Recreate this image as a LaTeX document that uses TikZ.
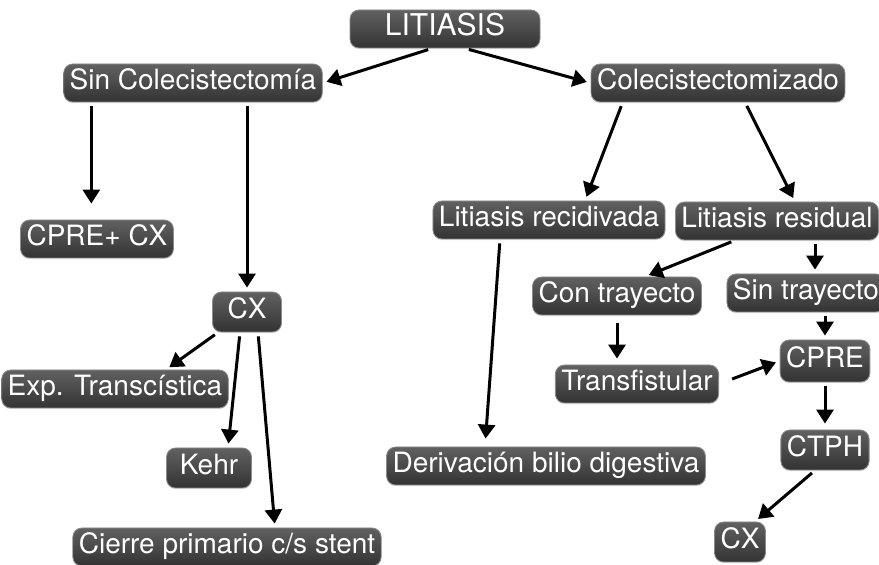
\documentclass[tikz,border=0pt]{standalone}
\usepackage{fontspec}
\setmainfont{TeX Gyre Heros}
\usetikzlibrary{arrows.meta,shadows}

\begin{document}
\begin{tikzpicture}[x=0.5pt,y=-0.5pt,
		caja/.style={rounded corners=4.5pt, top color=black!62, bottom color=black!80,
			draw=black!45, line width=0.4pt, text=white, font=\fontsize{14}{16}\selectfont\strut,
			inner xsep=3pt, inner ysep=1pt, minimum height=19pt,
			drop shadow={opacity=0.25, shadow xshift=0pt, shadow yshift=-0.6pt}},
		flecha/.style={-{Triangle[width=8.5pt,length=7pt]}, line width=1.5pt,
			shorten <=2pt, shorten >=2pt}]
		\useasboundingbox (0,0) rectangle (879,565);
		\node[caja, minimum height=15pt, minimum width=95pt, font=\fontsize{15}{17}\selectfont\strut] (lit) at (445,29) {LITIASIS};
		\node[caja] (sincol) at (193,83) {Sin Colecistectomía};
		\node[caja] (colec) at (718,83) {Colecistectomizado};
		\node[caja] (cprecx) at (97,239) {CPRE+ CX};
		\node[caja, minimum width=34.5pt, minimum height=20pt] (cxl) at (247,312) {CX};
		\node[caja] (recid) at (549,220) {Litiasis recidivada};
		\node[caja] (resid) at (777,221) {Litiasis residual};
		\node[caja] (con) at (617,296) {Con trayecto};
		\node[caja] (sint) at (806,293) {Sin trayecto};
		\node[caja, minimum width=42.5pt, minimum height=21pt] (cprer) at (825,361) {CPRE};
		\node[caja] (transf) at (637,384) {Transfistular};
		\node[caja, minimum width=42.5pt, minimum height=20pt] (ctph) at (825,450) {CTPH};
		\node[caja, minimum height=20pt] (cxr) at (740,542) {CX};
		\node[caja] (deriv) at (546,466) {Derivación bilio digestiva};
		\node[caja] (exp) at (115,389) {Exp. Transcística};
		\node[caja, minimum width=42.5pt, minimum height=20pt] (kehr) at (209,468) {Kehr};
		\node[caja] (cierre) at (227,547) {Cierre primario c/s stent};
		%
		\draw[flecha] ([xshift=-6.5pt]lit.south) to (sincol.east);
		\draw[flecha] ([xshift=10pt]lit.south) to (colec.west);
		\draw[flecha] ([xshift=14pt]sincol.south west) to ([xshift=14pt,yshift=6pt]sincol.south west |- cprecx.north);
		\draw[flecha] (cxl.north |- sincol.south) to (cxl.north);
		\draw[flecha] ([xshift=16pt]colec.south west) to ([xshift=18pt]recid.north);
		\draw[flecha] ([xshift=13.5pt]colec.south) to ([xshift=9pt]resid.north);
		\draw[flecha, shorten >=4pt] ([xshift=-24.5pt]recid.south) to ([xshift=-30.5pt]deriv.north);
		\draw[flecha] ([xshift=-21pt]resid.south) to ([xshift=14pt]con.north);
		\draw[flecha] ([xshift=19pt]resid.south) to ([xshift=19pt]resid.south |- sint.north);
		\draw[flecha, shorten <=4pt, shorten >=3pt] (con.south) to (con.south |- transf.north);
		\draw[flecha] (cprer.north |- sint.south) to (cprer.north);
		\draw[flecha, shorten <=7pt] (transf.east) to (cprer.west);
		\draw[flecha, shorten >=3pt] (cprer.south) to (ctph.north);
		\draw[flecha] ([xshift=-5pt]ctph.south) to ([xshift=7.5pt]cxr.north);
		\draw[flecha] ([xshift=3pt]cxl.south west) to ([xshift=25.5pt]exp.north);
		\draw[flecha] ([xshift=-3.5pt]cxl.south) to ([xshift=9.5pt]kehr.north);
		\draw[flecha] ([xshift=5.5pt]cxl.south) to ([xshift=24pt]cierre.north);
	\end{tikzpicture}
\end{document}
